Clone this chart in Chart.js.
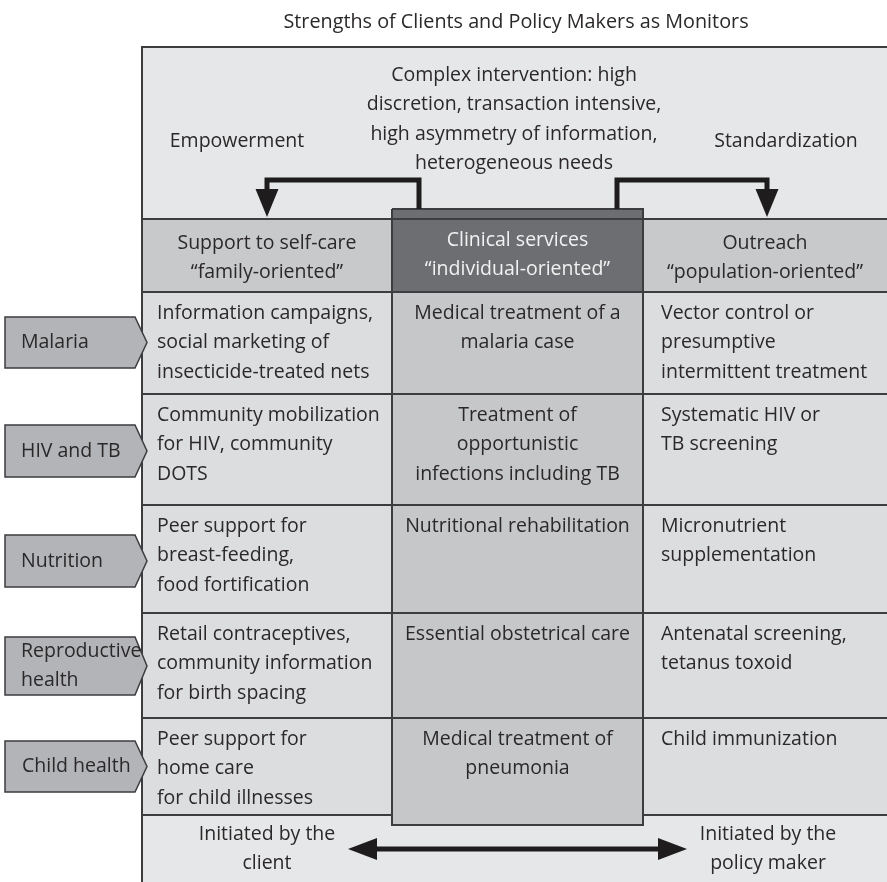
<!DOCTYPE html>
<html>
<head>
<meta charset="utf-8">
<script src="https://cdn.jsdelivr.net/npm/chart.js@4/dist/chart.umd.min.js"></script>
<style>
  html, body { margin: 0; padding: 0; background: #fff; }
  #wrap { width: 887px; height: 882px; position: relative; }
</style>
</head>
<body>
<div id="wrap"><canvas id="chart"></canvas></div>
<script>
// Diagram content
const title = "Strengths of Clients and Policy Makers as Monitors";
const topText = ["Complex intervention: high", "discretion, transaction intensive,", "high asymmetry of information,", "heterogeneous needs"];
const leftTopLabel = "Empowerment";
const rightTopLabel = "Standardization";

const rowLabels = [["Malaria"], ["HIV and TB"], ["Nutrition"], ["Reproductive", "health"], ["Child health"]];

const columnHeads = [
    ["Support to self-care", "\u201cfamily-oriented\u201d"],
    ["Clinical services", "\u201cindividual-oriented\u201d"],
    ["Outreach", "\u201cpopulation-oriented\u201d"]
];

const selfCare = [
    ["Information campaigns,", "social marketing of", "insecticide-treated nets"],
    ["Community mobilization", "for HIV, community", "DOTS"],
    ["Peer support for", "breast-feeding,", "food fortification"],
    ["Retail contraceptives,", "community information", "for birth spacing"],
    ["Peer support for", "home care", "for child illnesses"]
];
const clinical = [
    ["Medical treatment of a", "malaria case"],
    ["Treatment of", "opportunistic", "infections including TB"],
    ["Nutritional rehabilitation"],
    ["Essential obstetrical care"],
    ["Medical treatment of", "pneumonia"]
];
const outreach = [
    ["Vector control or", "presumptive", "intermittent treatment"],
    ["Systematic HIV or", "TB screening"],
    ["Micronutrient", "supplementation"],
    ["Antenatal screening,", "tetanus toxoid"],
    ["Child immunization"]
];
const bottomLeft = ["Initiated by the", "client"];
const bottomRight = ["Initiated by the", "policy maker"];

// Layout in diagram units (scale units)
const colEdges = [142, 392, 643, 887];
const rowEdges = [292, 394, 505, 613, 718, 815];
const tagBands = [[317, 368], [425, 477], [535, 587], [637, 695], [741, 792]];

const FONT = '"Open Sans", "DejaVu Sans", sans-serif';
const SIZE = 19.5;
const INK = '#2b2829';
const LINE = '#3d3d3f';

const diagramPlugin = {
    id: 'diagram',
    afterDraw(chart) {
        const ctx = chart.ctx;
        const sx = chart.scales.x, sy = chart.scales.y;
        const X = v => sx.getPixelForValue(v);
        const Y = v => sy.getPixelForValue(v);

        function rect(x0, y0, x1, y1, fill) {
            ctx.fillStyle = fill;
            ctx.fillRect(X(x0), Y(y0), X(x1) - X(x0), Y(y1) - Y(y0));
        }
        function line(pts, width, color) {
            ctx.beginPath();
            ctx.moveTo(X(pts[0][0]), Y(pts[0][1]));
            for (let i = 1; i < pts.length; i++) ctx.lineTo(X(pts[i][0]), Y(pts[i][1]));
            ctx.lineWidth = width;
            ctx.strokeStyle = color;
            ctx.lineJoin = 'miter';
            ctx.stroke();
        }
        function poly(pts, fill, stroke) {
            ctx.beginPath();
            ctx.moveTo(X(pts[0][0]), Y(pts[0][1]));
            for (let i = 1; i < pts.length; i++) ctx.lineTo(X(pts[i][0]), Y(pts[i][1]));
            ctx.closePath();
            ctx.fillStyle = fill;
            ctx.fill();
            if (stroke) {
                ctx.lineWidth = 1.5;
                ctx.strokeStyle = stroke;
                ctx.stroke();
            }
        }
        function text(lines, x, y, align, color, size) {
            ctx.font = (size || SIZE) + 'px ' + FONT;
            ctx.fillStyle = color || INK;
            ctx.textAlign = align;
            ctx.textBaseline = 'middle';
            lines.forEach((t, i) => ctx.fillText(t, X(x), Y(y + i * 29.5)));
        }

        ctx.save();
        // backgrounds
        rect(colEdges[0], 47, 887, 219, '#e6e7e8');
        rect(colEdges[0], 219, 887, 292, '#c8c9cb');
        rect(colEdges[0], 292, 887, rowEdges[5], '#dcdddf');
        rect(colEdges[0], rowEdges[5], 887, 882, '#e6e7e8');
        rect(colEdges[1], 209, colEdges[2], 292, '#6d6e71');
        rect(colEdges[1], 292, colEdges[2], 825, '#c6c7c9');

        // grid lines
        line([[colEdges[0], 882], [colEdges[0], 47], [887, 47]], 2, LINE);
        line([[colEdges[0], 219], [887, 219]], 2, LINE);
        rowEdges.forEach(r => {
            line([[colEdges[0], r], [colEdges[1], r]], 2, LINE);
            line([[colEdges[2], r], [887, r]], 2, LINE);
        });
        line([[colEdges[1], 209], [colEdges[2], 209], [colEdges[2], 825], [colEdges[1], 825], [colEdges[1], 209]], 2, LINE);
        for (let i = 0; i < 4; i++) line([[colEdges[1], rowEdges[i + 1]], [colEdges[2], rowEdges[i + 1]]], 2, LINE);
        line([[colEdges[1], 292], [colEdges[2], 292]], 2, LINE);

        // top bracket arrows
        line([[419, 209], [419, 180], [267, 180], [267, 192]], 5, '#1e1c1d');
        poly([[255.5, 189], [278.5, 189], [267, 217]], '#1e1c1d');
        line([[617, 209], [617, 180], [767, 180], [767, 192]], 5, '#1e1c1d');
        poly([[755.5, 189], [778.5, 189], [767, 217]], '#1e1c1d');

        // bottom double arrow
        line([[374, 849], [663, 849]], 5, '#1e1c1d');
        poly([[348, 849], [377, 838], [377, 860]], '#1e1c1d');
        poly([[687, 849], [658, 838], [658, 860]], '#1e1c1d');

        // row tags
        tagBands.forEach(([t, b], i) => {
            const m = (t + b) / 2;
            poly([[5, t], [135, t], [147, m], [135, b], [5, b]], '#b2b4b7', '#3d3d3f');
            const lines = rowLabels[i];
            const x = i === 4 ? 22 : 21;
            text(lines, x, m - (lines.length - 1) * 14.75, 'left');
        });

        // texts
        text([title], 516, 22, 'center', INK, 19.8);
        text(topText, 514, 75, 'center');
        text([leftTopLabel], 237, 141, 'center');
        text([rightTopLabel], 786, 141, 'center');
        text(columnHeads[0], 267, 243, 'center');
        text(columnHeads[1], 517.5, 240, 'center', '#f2f2f2');
        text(columnHeads[2], 765, 243, 'center');
        for (let i = 0; i < 5; i++) {
            const y = rowEdges[i] + 21;
            text(selfCare[i], 157, y, 'left');
            text(clinical[i], 517.5, y, 'center');
            text(outreach[i], 661, y, 'left');
        }
        text(bottomLeft, 267, 834, 'center');
        text(bottomRight, 768, 834, 'center');
        ctx.restore();
    }
};

new Chart(document.getElementById('chart'), {
    type: 'scatter',
    data: { datasets: [{ data: [], pointRadius: 0 }] },
    options: {
        responsive: true,
        maintainAspectRatio: false,
        animation: false,
        layout: { padding: 0 },
        plugins: { legend: { display: false }, tooltip: { enabled: false } },
        scales: {
            x: { type: 'linear', min: 0, max: 887, display: false },
            y: { type: 'linear', min: 0, max: 882, reverse: true, display: false }
        }
    },
    plugins: [diagramPlugin]
});
</script>
</body>
</html>
